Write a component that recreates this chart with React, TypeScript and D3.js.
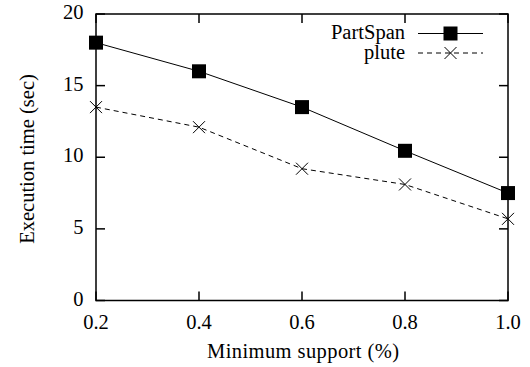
import React from "react";
import * as d3 from "d3";

const xValues = [0.2, 0.4, 0.6, 0.8, 1.0];
const partSpan = [18.0, 16.0, 13.5, 10.45, 7.5];
const plute = [13.5, 12.1, 9.2, 8.1, 5.7];
const xTicks = [0.2, 0.4, 0.6, 0.8, 1.0];
const yTicks = [0, 5, 10, 15, 20];

const W = 530, H = 367;
const M = { left: 96, right: 508, top: 14, bottom: 300.5 };
const FONT = "'Liberation Serif', 'Times New Roman', Times, serif";
const ts: React.CSSProperties = { fontFamily: FONT, fontSize: "20.5px" };

export default function App() {
  const x = d3.scaleLinear().domain([0.2, 1.0]).range([M.left, M.right]);
  const y = d3.scaleLinear().domain([0, 20]).range([M.bottom, M.top]);
  const line = d3.line<number>().x((_, i) => x(xValues[i])).y((d) => y(d));
  const tl = 9;
  const sq = 14;
  const cr = 6;
  const cross = (cx: number, cy: number, k: string) => (
    <path key={k} d={`M${cx - cr},${cy - cr}L${cx + cr},${cy + cr}M${cx - cr},${cy + cr}L${cx + cr},${cy - cr}`} stroke="#000" strokeWidth={1} fill="none" />
  );
  return (
    <svg width={W} height={H} style={{ position: "absolute", left: 0, top: 0 }}>
      <rect width={W} height={H} fill="#fff" />
      {xTicks.map((t) => (
        <g key={"xt" + t}>
          <line x1={x(t)} x2={x(t)} y1={M.bottom} y2={M.bottom - tl} stroke="#000" strokeWidth={1.5} />
          <line x1={x(t)} x2={x(t)} y1={M.top} y2={M.top + tl} stroke="#000" strokeWidth={1.5} />
          <text x={x(t)} y={328.5} textAnchor="middle" style={ts}>{t.toFixed(1)}</text>
        </g>
      ))}
      {yTicks.map((t) => (
        <g key={"yt" + t}>
          <line x1={M.left} x2={M.left + tl} y1={y(t)} y2={y(t)} stroke="#000" strokeWidth={1.5} />
          <line x1={M.right} x2={M.right - tl} y1={y(t)} y2={y(t)} stroke="#000" strokeWidth={1.5} />
          <text x={83.5} y={y(t) + 5} textAnchor="end" style={ts}>{t}</text>
        </g>
      ))}
      <rect x={M.left} y={M.top} width={M.right - M.left} height={M.bottom - M.top} fill="none" stroke="#000" strokeWidth={1.5} />
      <path d={line(partSpan) || ""} fill="none" stroke="#000" strokeWidth={1} />
      <path d={line(plute) || ""} fill="none" stroke="#000" strokeWidth={1} strokeDasharray="5,4" />
      {partSpan.map((v, i) => (
        <rect key={"ps" + i} x={x(xValues[i]) - sq / 2} y={y(v) - sq / 2} width={sq} height={sq} fill="#000" />
      ))}
      {plute.map((v, i) => cross(x(xValues[i]), y(v), "pl" + i))}
      <text x={405} y={39} textAnchor="end" style={ts}>PartSpan</text>
      <line x1={418} x2={483} y1={33.5} y2={33.5} stroke="#000" strokeWidth={1} />
      <rect x={450.5 - sq / 2} y={33.5 - sq / 2} width={sq} height={sq} fill="#000" />
      <text x={405} y={59} textAnchor="end" style={ts}>plute</text>
      <line x1={418} x2={483} y1={53} y2={53} stroke="#000" strokeWidth={1} strokeDasharray="5,4" />
      {cross(450.5, 53, "lg")}
      <text x={207} y={358} textLength={192} lengthAdjust="spacing" style={ts}>Minimum support (%)</text>
      <text transform={`translate(34,159) rotate(-90)`} textAnchor="middle" style={ts}>Execution time (sec)</text>
    </svg>
  );
}
